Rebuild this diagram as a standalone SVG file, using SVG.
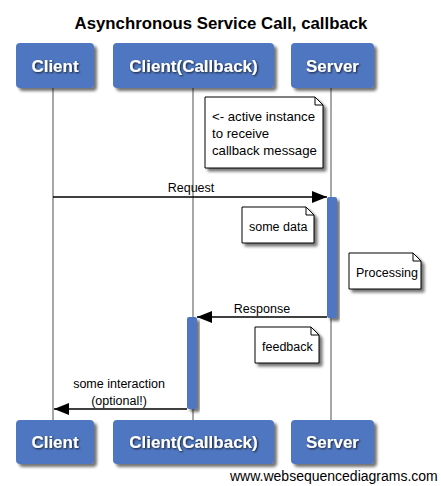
<svg xmlns="http://www.w3.org/2000/svg" width="441" height="486" viewBox="0 0 441 486">
<defs>
<filter id="sh" x="-20%" y="-20%" width="150%" height="150%">
<feGaussianBlur in="SourceAlpha" stdDeviation="1.5"/>
<feOffset dx="3" dy="3" result="b"/>
<feComponentTransfer><feFuncA type="linear" slope="0.55"/></feComponentTransfer>
<feMerge><feMergeNode/><feMergeNode in="SourceGraphic"/></feMerge>
</filter>
<filter id="tsh" x="-10%" y="-30%" width="130%" height="180%">
<feGaussianBlur in="SourceAlpha" stdDeviation="1"/>
<feOffset dx="1" dy="1" result="b"/>
<feComponentTransfer><feFuncA type="linear" slope="0.8"/></feComponentTransfer>
<feMerge><feMergeNode/><feMergeNode in="SourceGraphic"/></feMerge>
</filter>
<marker id="ah" markerWidth="15" markerHeight="12" refX="15" refY="6" orient="auto" markerUnits="userSpaceOnUse">
<path d="M0,0 L15,6 L0,12 Z" fill="#000"/>
</marker>
</defs>
<style>
.title{font-family:"Liberation Sans",Arial,sans-serif;font-weight:bold;font-size:16.8px;fill:#000}
.box{fill:#4f77c1;filter:url(#sh)}
.pl{font-family:"Liberation Sans",Arial,sans-serif;font-weight:bold;font-size:17px;fill:#fff;text-anchor:middle;filter:url(#tsh)}
.life{stroke:#8a8a8a;stroke-width:1.5;fill:none}
.act{fill:#4f77c1;filter:url(#sh)}
.msg{stroke:#000;stroke-width:1.6;fill:none;marker-end:url(#ah)}
.lbl{font-family:"Liberation Sans",Arial,sans-serif;font-size:12.5px;fill:#000}
.big{font-size:13.2px}
.note{fill:#fff;stroke:#000;stroke-width:1;filter:url(#sh)}
.fold{fill:none;stroke:#000;stroke-width:1}
.foot{font-family:"Liberation Sans",Arial,sans-serif;font-size:14px;fill:#000}
</style>
<rect width="441" height="486" fill="#fff"/>
<text class="title" x="221" y="29" text-anchor="middle">Asynchronous Service Call, callback</text>

<g id="lifelines">
<line class="life" x1="53" y1="88" x2="53" y2="420"/>
<line class="life" x1="193" y1="88" x2="193" y2="420"/>
<line class="life" x1="331" y1="88" x2="331" y2="420"/>
</g>

<g id="p-client">
<rect class="box" x="16" y="43" width="78" height="45" rx="4"/>
<text class="pl" x="55" y="72">Client</text>
</g>
<g id="p-callback">
<rect class="box" x="113" y="43" width="161" height="45" rx="4"/>
<text class="pl" x="193.5" y="72">Client(Callback)</text>
</g>
<g id="p-server">
<rect class="box" x="291" y="43" width="83" height="45" rx="4"/>
<text class="pl" x="332.5" y="72">Server</text>
</g>

<g id="p-client-bottom">
<rect class="box" x="16" y="420" width="78" height="44" rx="4"/>
<text class="pl" x="55" y="448">Client</text>
</g>
<g id="p-callback-bottom">
<rect class="box" x="113" y="420" width="161" height="44" rx="4"/>
<text class="pl" x="193.5" y="448">Client(Callback)</text>
</g>
<g id="p-server-bottom">
<rect class="box" x="291" y="420" width="83" height="44" rx="4"/>
<text class="pl" x="332.5" y="448">Server</text>
</g>

<g id="activations">
<rect class="act" x="327" y="197" width="10" height="121" rx="2"/>
<rect class="act" x="187" y="317" width="10" height="92" rx="2"/>
</g>

<g id="note-active">
<path class="note" d="M205,97 H315 L323,105 V168 H205 Z"/>
<path class="fold" d="M315,97 V105 H323"/>
<text class="lbl big" x="212" y="121">&lt;- active instance</text>
<text class="lbl big" x="212" y="138">to receive</text>
<text class="lbl big" x="212" y="155">callback message</text>
</g>
<g id="note-somedata">
<path class="note" d="M242,207 H306 L314,215 V243 H242 Z"/>
<path class="fold" d="M306,207 V215 H314"/>
<text class="lbl" x="249" y="231">some data</text>
</g>
<g id="note-processing">
<path class="note" d="M349,253 H413 L421,261 V289 H349 Z"/>
<path class="fold" d="M413,253 V261 H421"/>
<text class="lbl" x="356" y="277">Processing</text>
</g>
<g id="note-feedback">
<path class="note" d="M255,327 H311 L319,335 V363 H255 Z"/>
<path class="fold" d="M311,327 V335 H319"/>
<text class="lbl" x="262" y="351">feedback</text>
</g>

<g id="connectors">
<line class="msg" x1="53" y1="197" x2="327" y2="197"/>
<text class="lbl" x="191" y="192" text-anchor="middle">Request</text>
<line class="msg" x1="327" y1="317" x2="197" y2="317"/>
<text class="lbl" x="262" y="313" text-anchor="middle">Response</text>
<line class="msg" x1="187" y1="409" x2="54" y2="409"/>
<text class="lbl" x="119" y="388" text-anchor="middle">some interaction</text>
<text class="lbl" x="119" y="405" text-anchor="middle">(optional!)</text>
</g>

<text class="foot" x="230" y="481">www.websequencediagrams.com</text>
</svg>
